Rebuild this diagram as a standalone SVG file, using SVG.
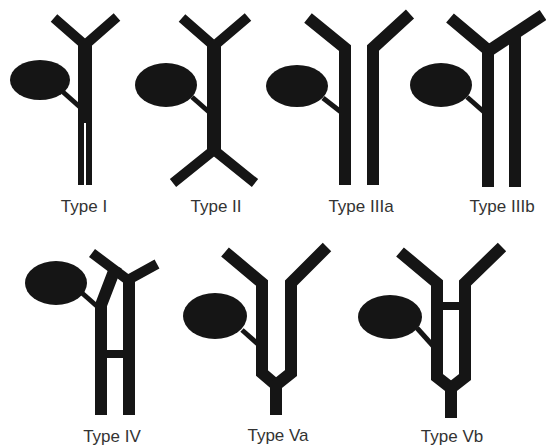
<svg xmlns="http://www.w3.org/2000/svg" width="546" height="447" viewBox="0 0 546 447">
  <style>
    .duct { fill: none; stroke: #151515; stroke-width: 12; stroke-linejoin: miter; stroke-linecap: butt; stroke-miterlimit: 6; }
    .arm { fill: none; stroke: #151515; stroke-width: 10; stroke-linejoin: miter; stroke-linecap: butt; stroke-miterlimit: 6; }
    .bar { fill: #151515; }
    .gb { fill: #151515; }
    .cyst { fill: none; stroke: #151515; stroke-width: 5; }
    .label { font-family: "Liberation Sans", Arial, sans-serif; font-size: 17px; fill: #333; text-anchor: middle; }
  </style>
  <rect width="546" height="447" fill="#fff"/>

  <!-- Type I -->
  <g id="type-1">
    <ellipse class="gb" cx="40" cy="80" rx="30" ry="20"/>
    <line class="cyst" x1="63" y1="92" x2="81" y2="108"/>
    <polyline class="arm" points="54,18 85,45 117,17"/>
    <rect class="bar" x="78" y="44" width="14" height="141"/>
    <rect x="84" y="123" width="2" height="62" fill="#fff"/>
    <text class="label" x="84" y="212">Type I</text>
  </g>

  <!-- Type II -->
  <g id="type-2">
    <ellipse class="gb" cx="166" cy="85" rx="31" ry="22"/>
    <line class="cyst" x1="192" y1="97" x2="209" y2="112"/>
    <polyline class="arm" points="182,18 214,46 248,17"/>
    <polyline class="arm" points="173,183 214,150 255,183"/>
    <rect class="bar" x="207" y="44" width="14" height="108"/>
    <text class="label" x="216" y="212">Type II</text>
  </g>

  <!-- Type IIIa -->
  <g id="type-3a">
    <ellipse class="gb" cx="297" cy="86" rx="31" ry="21"/>
    <line class="cyst" x1="323" y1="98" x2="341" y2="112"/>
    <polyline class="duct" points="308,18 345,48 345,185"/>
    <polyline class="duct" points="410,14 373,48 373,185"/>
    <text class="label" x="361" y="212">Type IIIa</text>
  </g>

  <!-- Type IIIb -->
  <g id="type-3b">
    <ellipse class="gb" cx="441" cy="85" rx="31" ry="22"/>
    <line class="cyst" x1="467" y1="97" x2="484" y2="112"/>
    <polyline class="duct" points="450,18 488,50 488,187"/>
    <line class="duct" x1="543" y1="15" x2="487" y2="52"/>
    <line class="duct" x1="515" y1="30" x2="515" y2="187"/>
    <text class="label" x="502" y="212">Type IIIb</text>
  </g>

  <!-- Type IV -->
  <g id="type-4">
    <ellipse class="gb" cx="56" cy="283" rx="31" ry="22"/>
    <line class="cyst" x1="82" y1="293" x2="99" y2="308"/>
    <polyline class="arm" points="92,253 128,280 157,264"/>
    <line class="duct" x1="129" y1="276" x2="129" y2="415"/>
    <polyline class="duct" points="116,266 101,305 101,415"/>
    <rect class="bar" x="101" y="350" width="28" height="8"/>
    <text class="label" x="112" y="442">Type IV</text>
  </g>

  <!-- Type Va -->
  <g id="type-5a">
    <ellipse class="gb" cx="215" cy="316" rx="32" ry="23"/>
    <line class="cyst" x1="242" y1="330" x2="259" y2="345"/>
    <polyline class="duct" points="225,252 262,283 262,373 276,385"/>
    <polyline class="duct" points="327,247 291,283 291,373 276,385"/>
    <line class="duct" x1="276" y1="382" x2="276" y2="415"/>
    <text class="label" x="278" y="441">Type Va</text>
  </g>

  <!-- Type Vb -->
  <g id="type-5b">
    <ellipse class="gb" cx="390" cy="317" rx="32" ry="22"/>
    <line class="cyst" x1="417" y1="328" x2="434" y2="347"/>
    <polyline class="duct" points="400,252 437,283 437,377 451,388"/>
    <polyline class="duct" points="502,247 465,283 465,377 451,388"/>
    <line class="duct" x1="451" y1="385" x2="451" y2="418"/>
    <rect class="bar" x="437" y="302" width="28" height="8"/>
    <text class="label" x="452" y="442">Type Vb</text>
  </g>
</svg>
